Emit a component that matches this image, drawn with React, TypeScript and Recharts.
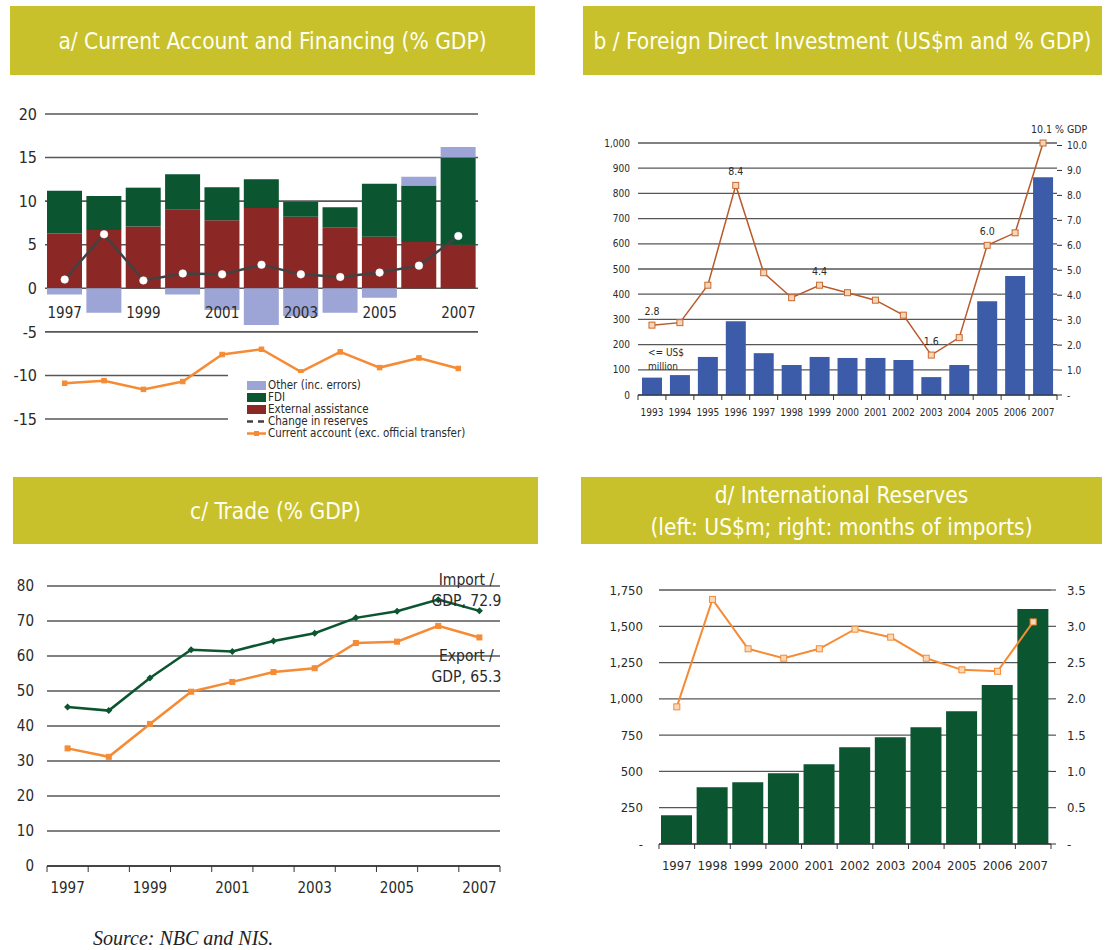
import { Bar, CartesianGrid, ComposedChart, LabelList, Legend, Line, XAxis, YAxis } from 'recharts';

const FONT = '"DejaVu Sans Condensed", "DejaVu Sans", sans-serif';
const INK = '#2a2a2a';
const GRID = '#575757';
const OLIVE = '#C8C12C';
const ORANGE = '#F58B34';
const GREEN = '#0B5530';

// a/ current account and financing (% GDP)
const aYears = ['1997', '1998', '1999', '2000', '2001', '2002', '2003', '2004', '2005', '2006', '2007'];
const aExternal = [6.3, 6.7, 7.1, 9.0, 7.8, 9.2, 8.2, 7.0, 5.9, 5.3, 5.0];
const aFdi = [4.9, 3.9, 4.4, 4.1, 3.8, 3.3, 1.7, 2.3, 6.1, 6.5, 10.0];
const aOther = [-0.7, -2.8, 0.1, -0.7, -2.5, -4.2, -3.2, -2.8, -1.1, 1.0, 1.2];
const aReserves = [1.0, 6.2, 0.9, 1.7, 1.6, 2.7, 1.6, 1.3, 1.8, 2.6, 6.0];
const aCurrent = [-10.9, -10.6, -11.6, -10.7, -7.6, -7.0, -9.6, -7.3, -9.1, -8.0, -9.2];
const aTicks = [-15, -10, -5, 0, 5, 10, 15, 20];

// b/ FDI (US$m, % GDP)
const bYears = ['1993', '1994', '1995', '1996', '1997', '1998', '1999', '2000', '2001', '2002', '2003', '2004', '2005', '2006', '2007'];
const bUsd = [69, 79, 151, 293, 166, 119, 151, 147, 147, 139, 71, 119, 372, 472, 864];
const bGdp = [2.8, 2.9, 4.4, 8.4, 4.9, 3.9, 4.4, 4.1, 3.8, 3.2, 1.6, 2.3, 6.0, 6.5, 10.1];
const bLabelYears = ['1993', '1996', '1999', '2003', '2005', '2007'];
const bLeftTicks = [0, 100, 200, 300, 400, 500, 600, 700, 800, 900, 1000];
const bRightTicks = [0, 1, 2, 3, 4, 5, 6, 7, 8, 9, 10];

// c/ trade (% GDP)
const cImport = [45.4, 44.4, 53.7, 61.8, 61.3, 64.3, 66.5, 70.9, 72.8, 76.1, 72.9];
const cExport = [33.6, 31.2, 40.6, 49.8, 52.6, 55.4, 56.5, 63.7, 64.1, 68.6, 65.3];
const cTicks = [0, 10, 20, 30, 40, 50, 60, 70, 80];

// d/ international reserves
const dUsd = [198, 391, 425, 488, 550, 667, 736, 805, 915, 1095, 1619];
const dMonths = [1.89, 3.37, 2.69, 2.56, 2.69, 2.96, 2.85, 2.56, 2.4, 2.38, 3.06];
const dLeftTicks = [0, 250, 500, 750, 1000, 1250, 1500, 1750];
const dRightTicks = [0, 0.5, 1, 1.5, 2, 2.5, 3, 3.5];

const aData = aYears.map((year, i) => ({
  year,
  external: aExternal[i],
  fdi: aFdi[i],
  other: aOther[i],
  reserves: aReserves[i],
  current: aCurrent[i],
}));
const bData = bYears.map((year, i) => ({ year, usd: bUsd[i], gdp: bGdp[i] }));
const cData = aYears.map((year, i) => ({ year, imp: cImport[i], exp: cExport[i] }));
const dData = aYears.map((year, i) => ({ year, usd: dUsd[i], months: dMonths[i] }));

const fmtThousands = (v: number) => (v === 0 ? '-' : v.toLocaleString('en-US'));

const squareDot = (size: number, fill: string, stroke: string) => (p: any) => {
  if (p.cx == null || p.cy == null) return <g key={p.index} />;
  return (
    <rect key={p.index} x={p.cx - size / 2} y={p.cy - size / 2} width={size} height={size} fill={fill} stroke={stroke} strokeWidth={1} />
  );
};

const diamondDot = (r: number, fill: string) => (p: any) => {
  if (p.cx == null || p.cy == null) return <g key={p.index} />;
  const { cx, cy } = p;
  return <polygon key={p.index} points={`${cx},${cy - r} ${cx + r},${cy} ${cx},${cy + r} ${cx - r},${cy}`} fill={fill} />;
};

type TickOpts = { band: number; count: number; tickLen: number; labelY: number; fontSize: number; every?: number };

// category ticks sit on band edges, labels on band centres
const boundaryTick = (o: TickOpts) => (p: any) => {
  const { x, y, payload, index } = p;
  const h = o.band / 2;
  return (
    <g>
      {o.tickLen > 0 && <line x1={x - h} x2={x - h} y1={y} y2={y + o.tickLen} stroke="#333" />}
      {o.tickLen > 0 && index === o.count - 1 && <line x1={x + h} x2={x + h} y1={y} y2={y + o.tickLen} stroke="#333" />}
      {index % (o.every ?? 1) === 0 && (
        <text x={x} y={y + o.labelY} textAnchor="middle" dominantBaseline="central" fontSize={o.fontSize} fill={INK} fontFamily={FONT}>
          {payload.value}
        </text>
      )}
    </g>
  );
};

function Header({ x, y, w, h, lines }: { x: number; y: number; w: number; h: number; lines: string[] }) {
  return (
    <div
      style={{
        position: 'absolute',
        left: x,
        top: y,
        width: w,
        height: h,
        background: OLIVE,
        color: '#fffff4',
        display: 'flex',
        flexDirection: 'column',
        alignItems: 'center',
        justifyContent: 'center',
        fontSize: 22.5,
        lineHeight: '32px',
        whiteSpace: 'nowrap',
        fontFamily: FONT,
      }}
    >
      {lines.map((l) => (
        <div key={l}>{l}</div>
      ))}
    </div>
  );
}

const aColors = { other: '#9CA5D5', fdi: GREEN, external: '#8B2825', reserves: '#424242', current: ORANGE };
const aLegendItems = [
  { name: 'Other (inc. errors)', color: aColors.other, kind: 'rect' },
  { name: 'FDI', color: aColors.fdi, kind: 'rect' },
  { name: 'External assistance', color: aColors.external, kind: 'rect' },
  { name: 'Change in reserves', color: aColors.reserves, kind: 'dash' },
  { name: 'Current account (exc. official transfer)', color: aColors.current, kind: 'line' },
];

function ALegend() {
  return (
    <div style={{ background: '#fff', padding: '6px 0 6px 19px', fontSize: 11.5, color: INK, fontFamily: FONT }}>
      {aLegendItems.map((it) => (
        <div key={it.name} style={{ display: 'flex', alignItems: 'center', height: 12, lineHeight: '12px' }}>
          <svg width={20} height={11} style={{ marginRight: 1, flex: 'none' }}>
            {it.kind === 'rect' && <rect x={0} y={1} width={19} height={9} fill={it.color} />}
            {it.kind === 'dash' && <line x1={0} x2={19} y1={5.5} y2={5.5} stroke={it.color} strokeWidth={2.5} strokeDasharray="6 5" />}
            {it.kind === 'line' && (
              <>
                <line x1={0} x2={19} y1={5.5} y2={5.5} stroke={it.color} strokeWidth={2.5} />
                <rect x={7} y={3} width={5} height={5} fill={it.color} />
              </>
            )}
          </svg>
          <span>{it.name}</span>
        </div>
      ))}
    </div>
  );
}

// panel a geometry
const A_M = { top: 14, right: 62, bottom: 40, left: 0 };
const A_W = 540;
const A_H = 360;
const A_Y_W = 45;
const A_PLOT_W = A_W - A_Y_W - A_M.right;
const A_PLOT_H = A_H - A_M.top - A_M.bottom - 1;
const aZeroFromBottom = (A_PLOT_H * (0 - aTicks[0])) / (aTicks[aTicks.length - 1] - aTicks[0]);

function PanelA() {
  return (
    <div style={{ position: 'absolute', left: 0, top: 100 }}>
      <ComposedChart width={A_W} height={A_H} data={aData} margin={A_M} stackOffset="sign" barSize={35}>
        <CartesianGrid vertical={false} stroke={GRID} strokeWidth={1.6} />
        <XAxis
          dataKey="year"
          height={1}
          axisLine={false}
          tickLine={false}
          tickSize={0}
          tickMargin={0}
          interval={0}
          tick={boundaryTick({ band: A_PLOT_W / aYears.length, count: aYears.length, tickLen: 0, labelY: -aZeroFromBottom + 25, fontSize: 15, every: 2 })}
        />
        <YAxis
          width={A_Y_W}
          domain={[-15, 20]}
          ticks={aTicks}
          interval={0}
          axisLine={false}
          tickLine={false}
          tick={{ fontSize: 16, fill: INK, fontFamily: FONT }}
        />
        <Bar dataKey="external" stackId="a" fill={aColors.external} isAnimationActive={false} />
        <Bar dataKey="fdi" stackId="a" fill={aColors.fdi} isAnimationActive={false} />
        <Bar dataKey="other" stackId="a" fill={aColors.other} isAnimationActive={false} />
        <Line
          dataKey="reserves"
          stroke={aColors.reserves}
          strokeWidth={2.5}
          dot={{ r: 3.8, fill: '#fff', stroke: '#fff', strokeWidth: 0.5 }}
          isAnimationActive={false}
        />
        <Line dataKey="current" stroke={aColors.current} strokeWidth={2.5} dot={squareDot(4.5, aColors.current, aColors.current)} isAnimationActive={false} />
        <Legend
          layout="vertical"
          align="center"
          verticalAlign="middle"
          wrapperStyle={{ left: 228, top: 273, width: 252 }}
          content={() => <ALegend />}
        />
      </ComposedChart>
    </div>
  );
}

// panel b geometry
const B_W = 535;
const B_H = 330;
const B_LEFT_W = 68;
const B_RIGHT_W = 48;
const B_PLOT_W = B_W - B_LEFT_W - B_RIGHT_W;
const B_LINE = '#B9592B';

const bLabel = (p: any) => {
  const i = p.index;
  if (i == null || !bLabelYears.includes(bYears[i])) return null;
  const x = p.viewBox?.x ?? p.x;
  const y = p.viewBox?.y ?? p.y;
  const last = i === bYears.length - 1;
  const text = Number(p.value).toFixed(1) + (last ? ' % GDP' : '');
  return (
    <text x={x + (last ? 16 : 0)} y={y - 14} textAnchor="middle" dominantBaseline="central" fontSize={10.5} fill={INK} fontFamily={FONT}>
      {text}
    </text>
  );
};

function PanelB() {
  return (
    <div style={{ position: 'absolute', left: 570, top: 100 }}>
      <ComposedChart width={B_W} height={B_H} data={bData} margin={{ top: 43, right: 0, bottom: 0, left: 0 }} barSize={20}>
        <CartesianGrid vertical={false} yAxisId="left" stroke={GRID} strokeWidth={1.3} />
        <XAxis
          dataKey="year"
          height={35}
          axisLine={{ stroke: '#333' }}
          tickLine={false}
          tickSize={0}
          tickMargin={0}
          interval={0}
          tick={boundaryTick({ band: B_PLOT_W / bYears.length, count: bYears.length, tickLen: 5, labelY: 17, fontSize: 10 })}
        />
        <YAxis
          yAxisId="left"
          width={B_LEFT_W}
          domain={[0, 1000]}
          ticks={bLeftTicks}
          interval={0}
          tickFormatter={(v: number) => v.toLocaleString('en-US')}
          axisLine={false}
          tickLine={false}
          tick={{ fontSize: 10, fill: INK, fontFamily: FONT }}
        />
        <YAxis
          yAxisId="right"
          orientation="right"
          width={B_RIGHT_W}
          domain={[0, 10]}
          ticks={bRightTicks}
          interval={0}
          tickFormatter={(v: number) => (v === 0 ? '-' : v.toFixed(1))}
          axisLine={false}
          tickLine={{ stroke: '#333' }}
          tickSize={5}
          tickMargin={5}
          tick={{ fontSize: 10, fill: INK, fontFamily: FONT }}
        />
        <Bar yAxisId="left" dataKey="usd" fill="#3C5BA8" isAnimationActive={false} />
        <Line yAxisId="right" dataKey="gdp" stroke={B_LINE} strokeWidth={1.5} dot={squareDot(6, '#F6D6BA', '#C8692F')} isAnimationActive={false}>
          <LabelList dataKey="gdp" content={bLabel} />
        </Line>
      </ComposedChart>
      <div style={{ position: 'absolute', left: 78, top: 246, fontSize: 10, lineHeight: '14px', color: INK, fontFamily: FONT }}>
        &lt;= US$
        <br />
        million
      </div>
    </div>
  );
}

// panel c geometry
const C_W = 540;
const C_H = 346;
const C_Y_W = 47;
const C_M = { top: 26, right: 40, bottom: 0, left: 0 };
const C_PLOT_W = C_W - C_Y_W - C_M.right;

const endLabel = (first: string, below: boolean) => (p: any) => {
  if (p.index !== aYears.length - 1) return null;
  const x = (p.viewBox?.x ?? p.x) - 13;
  const y = p.viewBox?.y ?? p.y;
  const y1 = below ? y + 19 : y - 31;
  return (
    <text textAnchor="middle" fontSize={15.5} fill={INK} fontFamily={FONT}>
      <tspan x={x} y={y1} dominantBaseline="central">
        {first}
      </tspan>
      <tspan x={x} y={y1 + 21} dominantBaseline="central">
        {`GDP, ${Number(p.value).toFixed(1)}`}
      </tspan>
    </text>
  );
};

function PanelC() {
  return (
    <div style={{ position: 'absolute', left: 0, top: 560 }}>
      <ComposedChart width={C_W} height={C_H} data={cData} margin={C_M}>
        <CartesianGrid vertical={false} stroke={GRID} strokeWidth={1.6} />
        <XAxis
          dataKey="year"
          scale="band"
          height={40}
          axisLine={{ stroke: '#333', strokeWidth: 1.5 }}
          tickLine={false}
          tickSize={0}
          tickMargin={0}
          interval={0}
          tick={boundaryTick({ band: C_PLOT_W / aYears.length, count: aYears.length, tickLen: 6, labelY: 22, fontSize: 15, every: 2 })}
        />
        <YAxis
          width={C_Y_W}
          domain={[0, 80]}
          ticks={cTicks}
          interval={0}
          axisLine={false}
          tickLine={false}
          tickMargin={7}
          tick={{ fontSize: 15, fill: INK, fontFamily: FONT }}
        />
        <Line dataKey="imp" stroke={GREEN} strokeWidth={2.5} dot={diamondDot(3.5, GREEN)} isAnimationActive={false}>
          <LabelList dataKey="imp" content={endLabel('Import /', false)} />
        </Line>
        <Line dataKey="exp" stroke={ORANGE} strokeWidth={2.5} dot={squareDot(5, ORANGE, ORANGE)} isAnimationActive={false}>
          <LabelList dataKey="exp" content={endLabel('Export /', true)} />
        </Line>
      </ComposedChart>
    </div>
  );
}

// panel d geometry
const D_W = 535;
const D_H = 310;
const D_LEFT_W = 89;
const D_RIGHT_W = 54;
const D_PLOT_W = D_W - D_LEFT_W - D_RIGHT_W;

function PanelD() {
  return (
    <div style={{ position: 'absolute', left: 570, top: 570 }}>
      <ComposedChart width={D_W} height={D_H} data={dData} margin={{ top: 20, right: 0, bottom: 0, left: 0 }} barSize={31}>
        <CartesianGrid vertical={false} yAxisId="left" stroke={GRID} strokeWidth={1.3} />
        <XAxis
          dataKey="year"
          height={36}
          axisLine={{ stroke: '#333' }}
          tickLine={false}
          tickSize={0}
          tickMargin={0}
          interval={0}
          tick={boundaryTick({ band: D_PLOT_W / aYears.length, count: aYears.length, tickLen: 5, labelY: 21, fontSize: 13 })}
        />
        <YAxis
          yAxisId="left"
          width={D_LEFT_W}
          domain={[0, 1750]}
          ticks={dLeftTicks}
          interval={0}
          tickFormatter={fmtThousands}
          axisLine={false}
          tickLine={false}
          tickMargin={10}
          tick={{ fontSize: 13, fill: INK, fontFamily: FONT }}
        />
        <YAxis
          yAxisId="right"
          orientation="right"
          width={D_RIGHT_W}
          domain={[0, 3.5]}
          ticks={dRightTicks}
          interval={0}
          tickFormatter={(v: number) => (v === 0 ? '-' : v.toFixed(1))}
          axisLine={false}
          tickLine={{ stroke: '#333' }}
          tickSize={5}
          tickMargin={11}
          tick={{ fontSize: 13, fill: INK, fontFamily: FONT }}
        />
        <Bar yAxisId="left" dataKey="usd" fill={GREEN} isAnimationActive={false} />
        <Line yAxisId="right" dataKey="months" stroke={ORANGE} strokeWidth={2} dot={squareDot(6, '#FAD8B8', ORANGE)} isAnimationActive={false} />
      </ComposedChart>
    </div>
  );
}

export default function App() {
  return (
    <div style={{ position: 'relative', width: 1105, height: 950, background: '#fff', fontFamily: FONT, overflow: 'hidden' }}>
      <style>{'body { margin: 0; }'}</style>
      <Header x={10} y={6} w={525} h={69} lines={['a/ Current Account and Financing (% GDP)']} />
      <Header x={583} y={6} w={519} h={69} lines={['b / Foreign Direct Investment (US$m and % GDP)']} />
      <Header x={13} y={477} w={525} h={67} lines={['c/ Trade (% GDP)']} />
      <Header x={581} y={477} w={521} h={67} lines={['d/ International Reserves', '(left: US$m; right: months of imports)']} />
      <PanelA />
      <PanelB />
      <PanelC />
      <PanelD />
      <div style={{ position: 'absolute', left: 93, top: 927, fontSize: 20, fontStyle: 'italic', fontFamily: '"Liberation Serif", serif', color: '#222' }}>
        Source: NBC and NIS.
      </div>
    </div>
  );
}
